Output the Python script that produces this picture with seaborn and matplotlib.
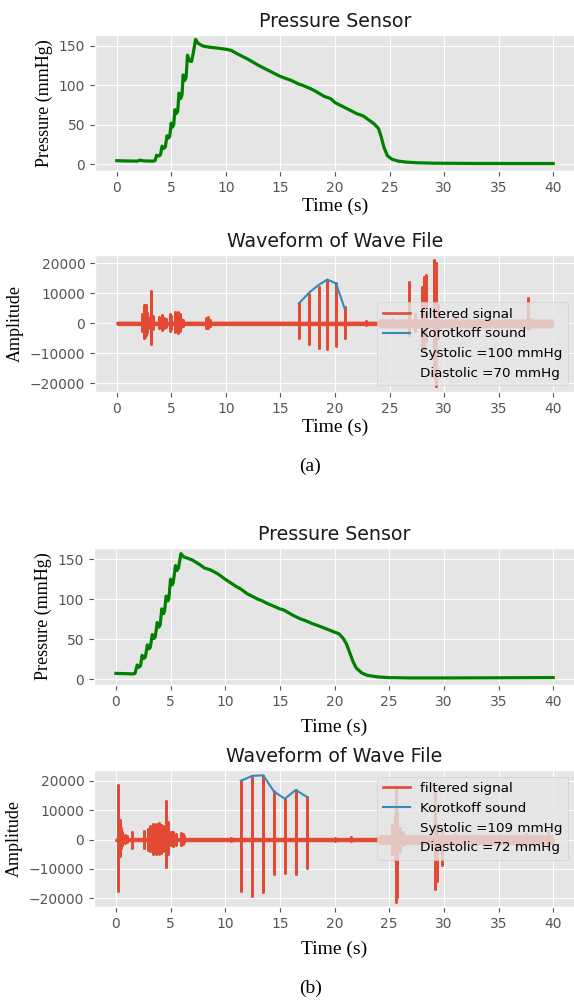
import pandas as pd
import seaborn as sns
import matplotlib.pyplot as plt

# ---- panel (a) pressure sensor ----
press_t_a = [0, 1.0, 1.9, 2.1, 2.5, 3.3, 3.5, 3.65, 3.85, 4.0, 4.15, 4.3, 4.45, 4.6, 4.72,
             4.85, 4.98, 5.1, 5.22, 5.32, 5.45, 5.58, 5.7, 5.85, 5.98, 6.08, 6.22, 6.35,
             6.48, 6.65, 6.85, 7.0, 7.22, 7.45, 7.9, 8.5, 9.2, 10.0, 10.5, 11.0, 12.0,
             13.0, 14.0, 15.0, 16.0, 16.6, 17.0, 17.7, 18.0, 19.0, 19.6, 20.0, 21.0,
             22.0, 22.6, 23.0, 23.6, 24.0, 24.25, 24.5, 24.8, 25.2, 25.8, 26.5, 27.5,
             29.0, 32.0, 36.0, 40.0]
press_a = [4.5, 4.2, 4.0, 5.2, 4.3, 4.0, 4.5, 11.5, 10.5, 12, 23, 20, 22, 36, 33,
           35, 52, 47, 50, 69, 64, 67, 90, 83, 88, 113, 106, 110,
           138, 131, 130, 140, 158, 153, 149.5, 148, 147, 145.5, 144, 140, 133,
           125, 118, 111, 106, 102, 100, 96, 94, 86, 83, 78, 71,
           64, 61, 57, 51, 45, 34, 21, 11, 6.5, 4, 2.8, 1.9,
           1.4, 1.1, 1.0, 1.0]

# ---- panel (a) filtered signal bursts: time, upper peak, lower peak ----
spike_t_a = [2.35, 2.45, 2.55, 2.65, 2.75, 2.85, 3.15, 3.3, 3.9, 4.1, 4.3, 4.55, 4.85, 5.0,
             5.3, 5.45, 5.6, 5.75, 5.9, 6.1, 8.2, 8.35, 8.5,
             16.7, 17.65, 18.5, 19.3, 20.1, 20.9,
             22.8, 25.2, 26.8, 27.3, 28.0, 28.15, 28.3, 29.1, 29.25, 29.4, 31.0, 33.0,
             37.7, 38.0]
spike_hi_a = [3000, 6000, 5000, 6200, 3500, 2000, 10800, 2500, 2200, 2800, 1800, 1500, 3200, 2500,
              3800, 2500, 3900, 3000, 1500, 1000, 1800, 2000, 1200,
              6900, 9800, 12200, 14400, 13300, 5300,
              800, 1500, 13900, 3000, 12000, 15500, 16000, 21000, 20000, 6000, 1500, 1000,
              8300, 1500]
spike_lo_a = [-2500, -5000, -4500, -4000, -3000, -1500, -6800, -2000, -1500, -2200, -1500, -1200,
              -2500, -2000, -3000, -2200, -3300, -2500, -1200, -800, -1500, -1600, -1000,
              -5000, -6900, -8300, -8700, -7600, -5000,
              -600, -1200, -4000, -2500, -8000, -9000, -6000, -18000, -21000, -5000, -1200, -800,
              -2000, -1200]
# background noise floor of the signal
noise_t_a = [0, 23.9, 24.1, 40]
noise_a = [750, 750, 1500, 1500]
koro_t_a = [16.7, 17.65, 18.5, 19.3, 20.1, 20.9]
koro_a = [6700, 10300, 12800, 14600, 13300, 4800]
systolic_a, diastolic_a = 100, 70

# ---- panel (b) pressure sensor ----
press_t_b = [0, 0.8, 1.6, 1.75, 1.95, 2.1, 2.25, 2.4, 2.55, 2.7, 2.88, 3.02, 3.15, 3.33, 3.48,
             3.6, 3.78, 3.92, 4.05, 4.2, 4.35, 4.45, 4.6, 4.75, 4.85, 5.0, 5.15, 5.25,
             5.45, 5.6, 5.72, 5.95, 6.2, 6.6, 7.0, 7.7, 8.1, 8.6, 9.3, 10.0, 11.0, 11.4,
             12.0, 13.0, 13.4, 13.8, 14.5, 15.0, 15.3, 16.2, 16.8, 17.4, 17.9, 18.7,
             19.45, 20.0, 20.4, 20.8, 21.1, 21.4, 21.7, 22.0, 22.5, 23.0, 24.0, 25.0,
             27.0, 30.0, 35.0, 40.0]
press_b = [7.5, 7.2, 6.8, 7.5, 18, 15, 17, 30, 26, 28, 43, 38, 40, 56, 51,
           53, 71, 65, 68, 88, 82, 85, 104, 98, 101, 125, 118, 121,
           142, 136, 139, 157, 153, 151, 149, 143, 139, 137, 132, 125, 116, 113,
           107, 100, 98, 95, 91, 88, 87, 80, 76, 73, 70, 66,
           62, 59, 57, 51, 44, 33, 22, 14, 8, 5, 3, 2.2,
           1.8, 1.8, 2.0, 2.3]

# ---- panel (b) filtered signal bursts ----
spike_t_b = [0.2, 0.35, 0.45, 0.6, 0.8, 1.0, 1.45, 2.6, 2.9, 3.15, 3.4, 3.65, 3.9, 4.15, 4.35,
             4.6, 4.8, 5.0, 5.25, 5.5, 5.95, 6.1, 6.25, 10.5,
             11.42, 12.48, 13.48, 14.45, 15.45, 16.45, 17.48,
             20.0, 21.5, 25.3, 25.5, 25.6, 25.75, 26.0, 26.3, 29.2, 29.35, 29.85,
             31.0, 33.0, 35.0, 37.5, 39.5]
spike_hi_b = [18600, 6800, 4000, 2500, 1500, 1200, 2500, 3000, 3500, 4500, 5300, 5400, 5500, 5000,
              4500, 13000, 6000, 2500, 2500, 2000, 2200, 1800, 1200, 600,
              20000, 21500, 21700, 16400, 13900, 16900, 14500,
              600, 800, 5000, 8000, 18000, 9000, 4000, 2500, 17000, 5000, 4000,
              2000, 1500, 1500, 2000, 3000]
spike_lo_b = [-17700, -5600, -3000, -2000, -1200, -1000, -2800, -3000, -3500, -4000, -4800, -5000,
              -4800, -4500, -4000, -9200, -5000, -2000, -2200, -1800, -2000, -1500, -1000, -500,
              -17500, -19200, -17900, -11900, -11300, -11900, -9600,
              -500, -600, -5000, -7000, -21200, -19500, -4000, -2000, -17000, -14000, -8700,
              -1800, -1500, -1500, -2000, -3000]
noise_t_b = [0, 23.9, 24.1, 40]
noise_b = [750, 750, 1700, 1700]
koro_t_b = [11.42, 12.48, 13.48, 14.45, 15.45, 16.45, 17.48]
koro_b = [20000, 21700, 21900, 16400, 13900, 16900, 14500]
systolic_b, diastolic_b = 109, 72

RED = '#E24A33'
BLUE = '#348ABD'


def wave_frame(ts, his, los, t_end=40):
    # each burst drawn as a vertical swing through zero
    xs, ys = [0.0], [0.0]
    for t, hi, lo in zip(ts, his, los):
        xs += [t, t, t, t]
        ys += [0, hi, lo, 0]
    xs.append(t_end)
    ys.append(0)
    return pd.DataFrame({'t': xs, 'amp': ys})


plt.style.use('ggplot')
serif = 'Liberation Serif'
fig = plt.figure(figsize=(5.74, 10), dpi=100)


def pressure_panel(rect, t, p, ylim, labelpad):
    ax = fig.add_axes(rect)
    sns.lineplot(x=t, y=p, ax=ax, color='green', lw=2.3, estimator=None, sort=False)
    ax.set_xlim(-2, 42)
    ax.set_ylim(*ylim)
    ax.set_xticks(range(0, 41, 5))
    ax.set_yticks([0, 50, 100, 150])
    ax.set_title('Pressure Sensor', fontsize=13.7, color='#1a1a1a')
    ax.set_xlabel('Time (s)', family=serif, fontsize=14, color='black', labelpad=labelpad)
    ax.set_ylabel('Pressure (mmHg)', family=serif, fontsize=13, color='black')
    ax.tick_params(labelsize=10)
    return ax


def wave_panel(rect, df, nt, nv, kt, kv, sys_v, dia_v, ylim, loc, labelpad):
    ax = fig.add_axes(rect)
    ax.fill_between(nt, [-v for v in nv], nv, color=RED, lw=0)
    sns.lineplot(data=df, x='t', y='amp', ax=ax, color=RED, lw=1.9,
                 estimator=None, sort=False, label='filtered signal')
    sns.lineplot(x=kt, y=kv, ax=ax, color=BLUE, lw=1.5,
                 estimator=None, sort=False, label='Korotkoff sound')
    ax.plot([], [], ' ', label='Systolic =%d mmHg' % sys_v)
    ax.plot([], [], ' ', label='Diastolic =%d mmHg' % dia_v)
    ax.set_xlim(-2, 42)
    ax.set_ylim(*ylim)
    ax.set_xticks(range(0, 41, 5))
    ax.set_yticks([-20000, -10000, 0, 10000, 20000])
    ax.set_title('Waveform of Wave File', fontsize=13.7, color='#1a1a1a')
    ax.set_xlabel('Time (s)', family=serif, fontsize=14, color='black', labelpad=labelpad)
    ax.set_ylabel('Amplitude', family=serif, fontsize=13, color='black')
    ax.tick_params(labelsize=10)
    ax.legend(loc=loc, fontsize=9.7)
    return ax


pressure_panel([0.1655, 0.829, 0.8362, 0.136], press_t_a, press_a, (-8.5, 163.5), 2)
wave_panel([0.1655, 0.608, 0.8362, 0.137],
           wave_frame(spike_t_a, spike_hi_a, spike_lo_a), noise_t_a, noise_a,
           koro_t_a, koro_a, systolic_a, diastolic_a, (-22900, 22800), 'lower right', 2)
fig.text(310 / 574, 1 - 466 / 1000, '(a)', family=serif, fontsize=14, ha='center', va='center')

pressure_panel([0.1638, 0.315, 0.838, 0.137], press_t_b, press_b, (-7, 164), 7)
wave_panel([0.1638, 0.093, 0.838, 0.137],
           wave_frame(spike_t_b, spike_hi_b, spike_lo_b), noise_t_b, noise_b,
           koro_t_b, koro_b, systolic_b, diastolic_b, (-23000, 23700), 'upper right', 7)
fig.text(311 / 574, 1 - 988 / 1000, '(b)', family=serif, fontsize=14, ha='center', va='center')

fig.savefig('out.png', dpi=100)
